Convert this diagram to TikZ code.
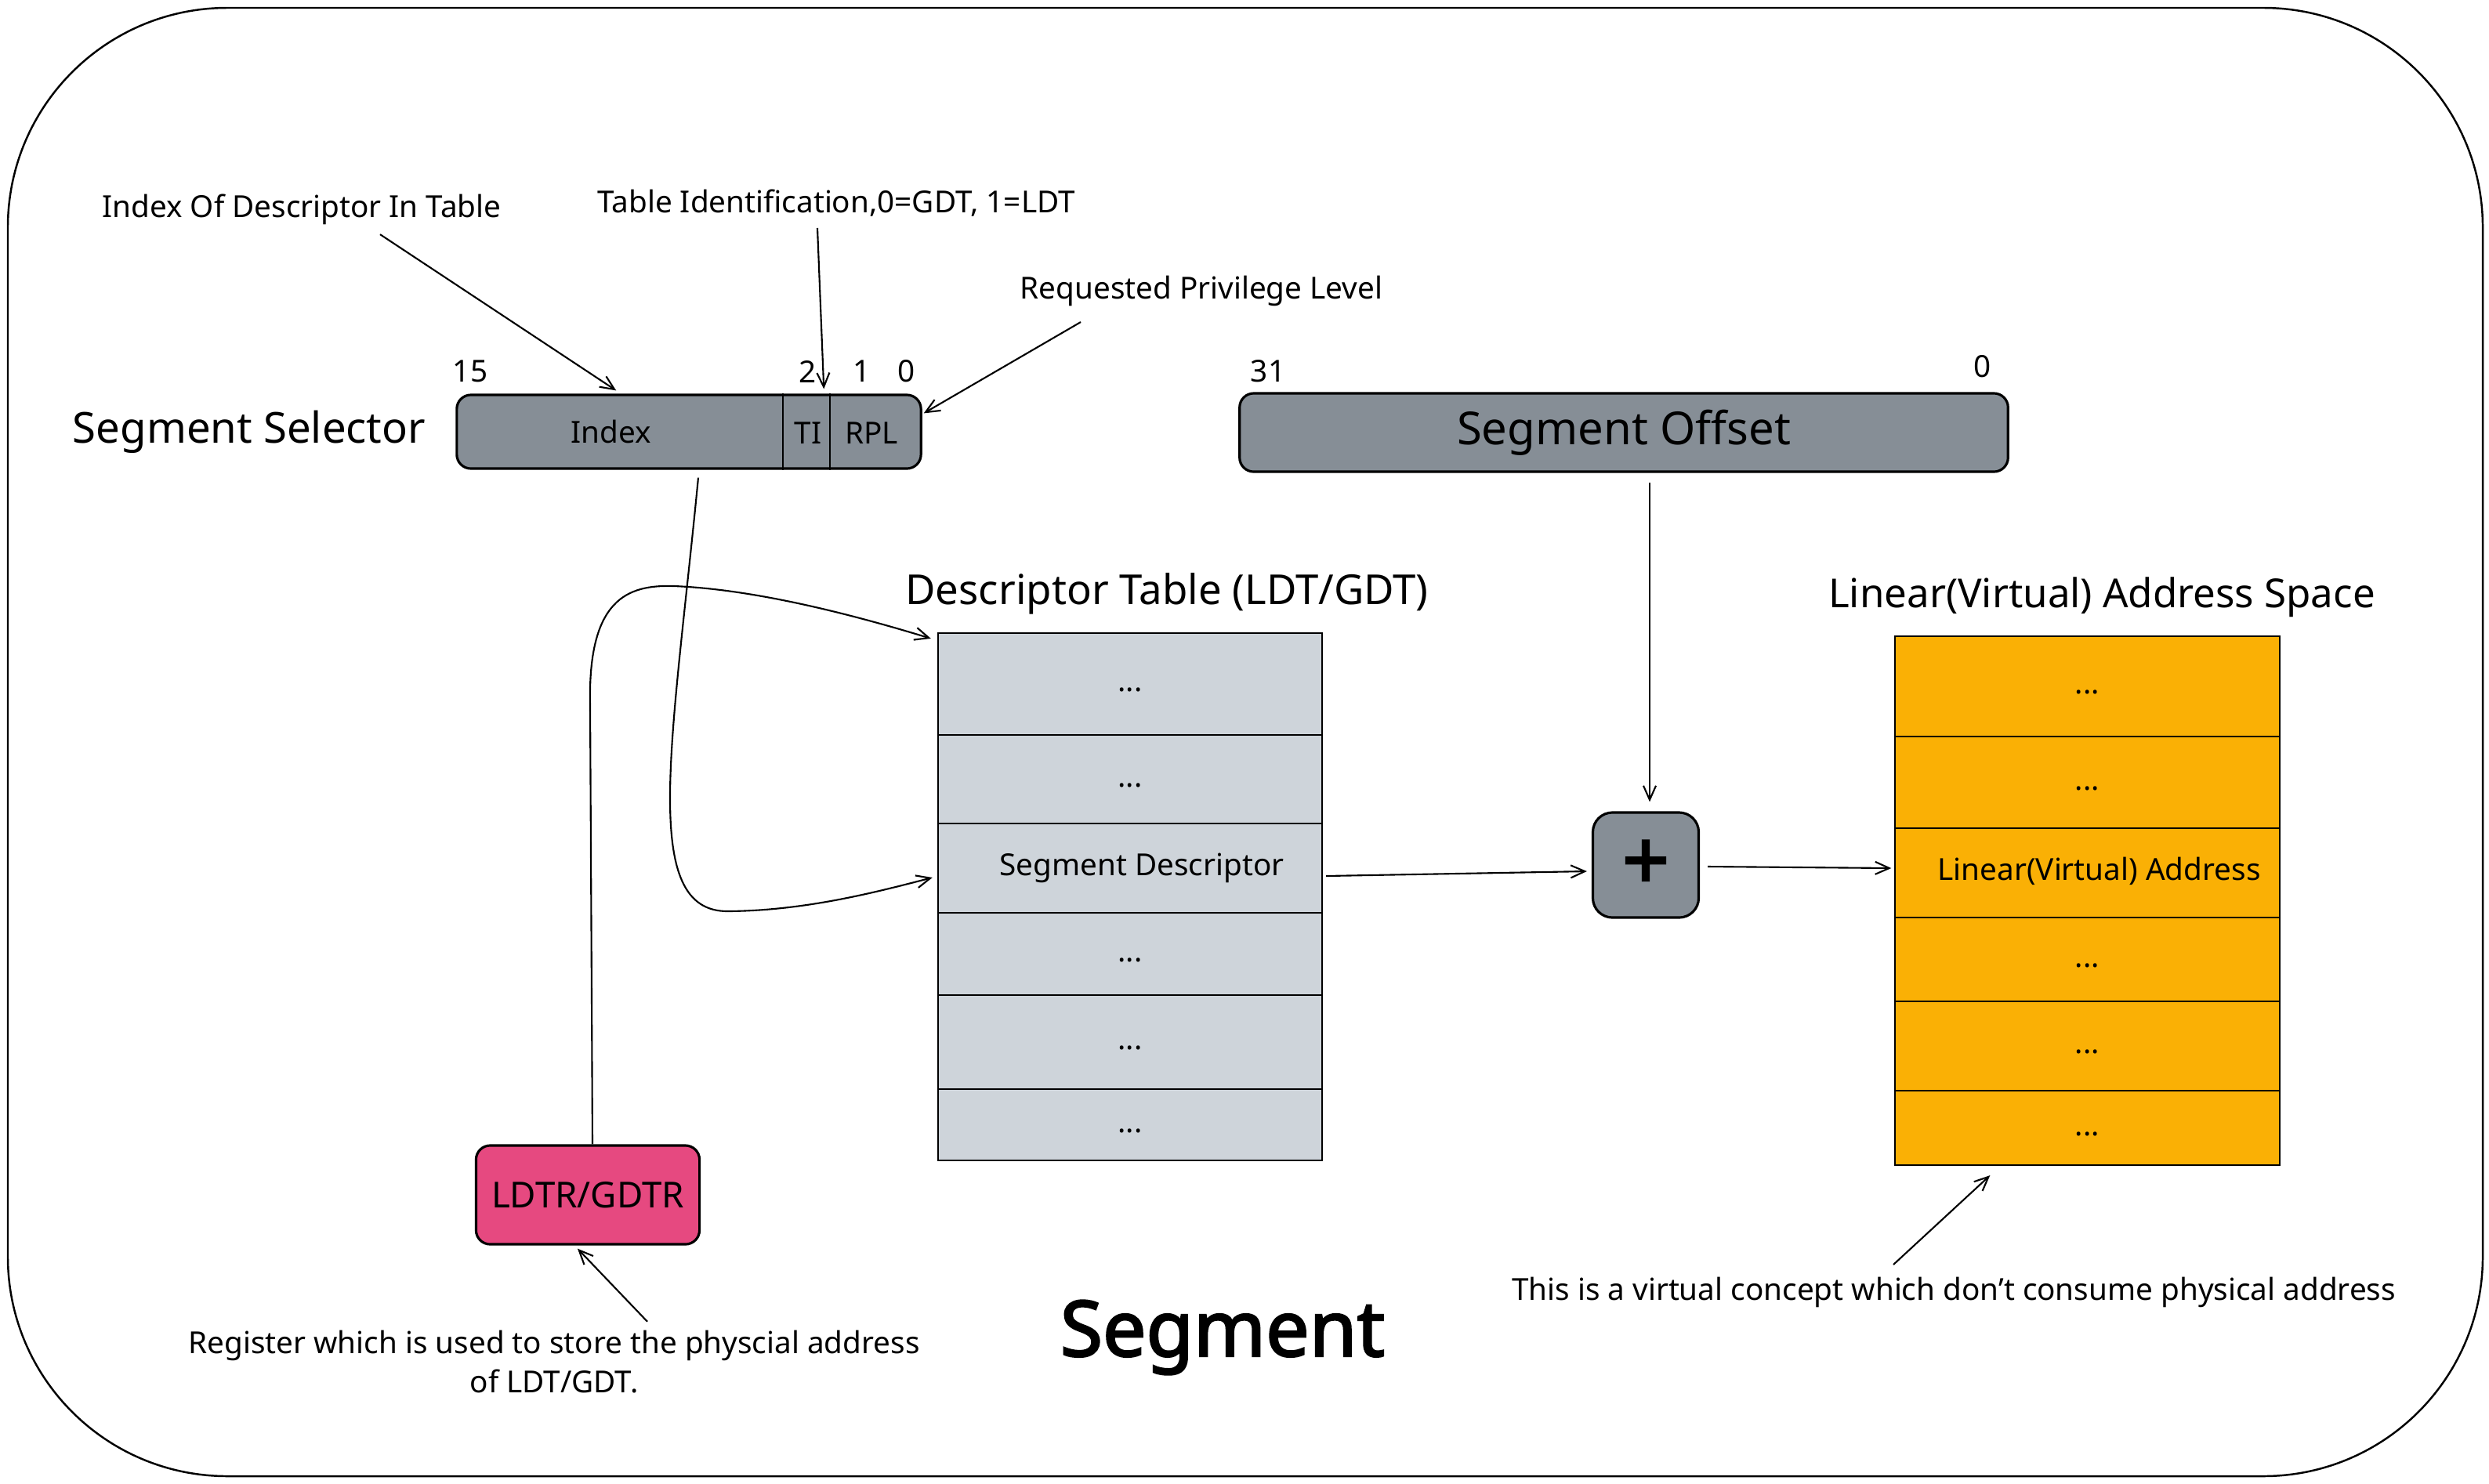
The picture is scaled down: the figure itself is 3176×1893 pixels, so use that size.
\documentclass[tikz,border=0pt]{standalone}
\usepackage{fontspec}
\setmainfont{Noto Sans}
\newfontfamily\heavyfont[FakeBold=2.5]{Noto Sans}
\usetikzlibrary{arrows.meta,calc}
\definecolor{selgray}{HTML}{868E96}
\definecolor{tblgray}{HTML}{CED4DA}
\definecolor{linyel}{HTML}{FAB005}
\definecolor{regpink}{HTML}{E64980}
\begin{document}
\begin{tikzpicture}[x=0.01cm,y=-0.01cm,
 every node/.style={font=\fontsize{11}{14}\selectfont, inner sep=0pt},
 titletext/.style={font=\fontsize{14.5}{17}\selectfont},
 bigtext/.style={font=\fontsize{15.5}{18}\selectfont},
 graybox/.style={draw=black, line width=0.9pt, fill=selgray, rounded corners=0.18cm},
 rowbox/.style={draw=black, line width=0.6pt, minimum width=4.90cm},
 trow/.style={rowbox, fill=tblgray},
 lrow/.style={rowbox, fill=linyel},
 arr/.style={-{Straight Barb[length=0.18cm,width=0.16cm]}, line width=0.6pt},
]
\useasboundingbox (0,0) rectangle (3176,1893);
% outer frame
\draw[line width=0.7pt, rounded corners=2.8cm] (10,10) rectangle (3168,1884);

% segment selector
\node[bigtext] (sst) at (318,551) {Segment Selector};
\node[graybox, minimum width=5.92cm, minimum height=0.94cm] (sel) at (879,551) {};
\draw[line width=0.6pt] ($(sel.north west)+(418,0)$) -- ($(sel.south west)+(418,0)$);
\draw[line width=0.6pt] ($(sel.north west)+(478,0)$) -- ($(sel.south west)+(478,0)$);
\node (idx) at (780,551) {Index};
\node (ti) at (1031,553) {TI};
\node (rpl) at (1112,553) {RPL};
\node (b15) at (600,474) {15};
\node (b2) at (1031,474) {2};
\node (b1) at (1100,474) {1};
\node (b0) at (1157,474) {0};

% segment offset
\node[graybox, minimum width=9.80cm, minimum height=1.00cm, font=\fontsize{16.5}{19}\selectfont] (off) at (2072,552) {Segment Offset};
\node (b31) at (1618,474) {31};
\node (b0o) at (2530,468) {0};

% plus
\node[graybox, minimum width=1.35cm, minimum height=1.34cm, rounded corners=0.25cm, font=\fontsize{30}{30}\heavyfont] (plus) at (2100,1104) {+};

% descriptor table
\node[titletext, font=\fontsize{15}{18}\selectfont] (dtt) at (1489,758) {Descriptor Table (LDT/GDT)};
\node[trow, minimum height=1.30cm] (d1) at (1442,873) {\strut...};
\node[trow, minimum height=1.13cm] (d2) at (1442,994.5) {\strut...};
\node[trow, minimum height=1.14cm] (d3) at (1442,1108) {\strut\hspace*{0.3cm}Segment Descriptor};
\node[trow, minimum height=1.05cm] (d4) at (1442,1217.5) {\strut...};
\node[trow, minimum height=1.20cm] (d5) at (1442,1330) {\strut...};
\node[trow, minimum height=0.91cm] (d6) at (1442,1435.5) {\strut...};

% linear address space
\node[titletext] (lat) at (2682,762) {Linear(Virtual) Address Space};
\node[lrow, minimum height=1.28cm] (l1) at (2663.5,876) {\strut...};
\node[lrow, minimum height=1.17cm] (l2) at (2663.5,998.5) {\strut...};
\node[lrow, minimum height=1.14cm] (l3) at (2663.5,1114) {\strut\hspace*{0.3cm}Linear(Virtual) Address};
\node[lrow, minimum height=1.07cm] (l4) at (2663.5,1224.5) {\strut...};
\node[lrow, minimum height=1.14cm] (l5) at (2663.5,1335) {\strut...};
\node[lrow, minimum height=0.95cm] (l6) at (2663.5,1439.5) {\strut...};

% register
\node[graybox, fill=regpink, minimum width=2.85cm, minimum height=1.26cm, font=\fontsize{13}{15}\selectfont] (ldtr) at (750,1525) {LDTR/GDTR};

% notes
\node (idxnote) at (385,267) {Index Of Descriptor In Table};
\node (tinote) at (1067,259) {Table Identification,0=GDT, 1=LDT};
\node (rplnote) at (1533,371) {Requested Privilege Level};
\node[align=center] (regnote) at (707,1738) {Register which is used to store the physcial address\\of LDT/GDT.};
\node (virtnote) at (2493,1649) {This is a virtual concept which don't consume physical address};
\node[font=\fontsize{28}{32}\heavyfont] (seg) at (1560,1707) {Segment};

% connectors
\draw[arr] ($(idxnote.south)+(100,12)$) -- ($(sel.north west)+(205,-4)$);
\draw[arr] ($(tinote.south)+(-24,14)$) -- ($(sel.north west)+(470,-6)$);
\draw[arr] ($(rplnote.south)+(-154,20)$) -- ($(sel.north east)+(2,25)$);
\draw[arr] ($(off.south)+(33,12)$) -- ($(plus.north)+(5,-12)$);
\draw[arr] ($(d3.east)+(4,10)$) -- ($(plus.west)+(-6,8)$);
\draw[arr] ($(plus.east)+(10,2)$) -- ($(l3.west)+(-4,-6)$);
\draw[arr] ($(sel.south)+(12,10)$) .. controls (858,950) and (815,1165) .. (930,1163) .. controls (1030,1162) and (1120,1138) .. ($(d3.west)+(-6,12)$);
\draw[arr] ($(ldtr.north)+(6,0)$) -- (753,900) .. controls (750,765) and (800,746) .. (860,748) .. controls (960,752) and (1080,782) .. ($(d1.north west)+(-8,8)$);
\draw[arr] ($(regnote.north)+(119,-11)$) -- ($(ldtr.south)+(-13,4)$);
\draw[arr] ($(virtnote.north)+(-77,-15)$) -- ($(l6.south west)+(122,12)$);
\end{tikzpicture}
\end{document}
